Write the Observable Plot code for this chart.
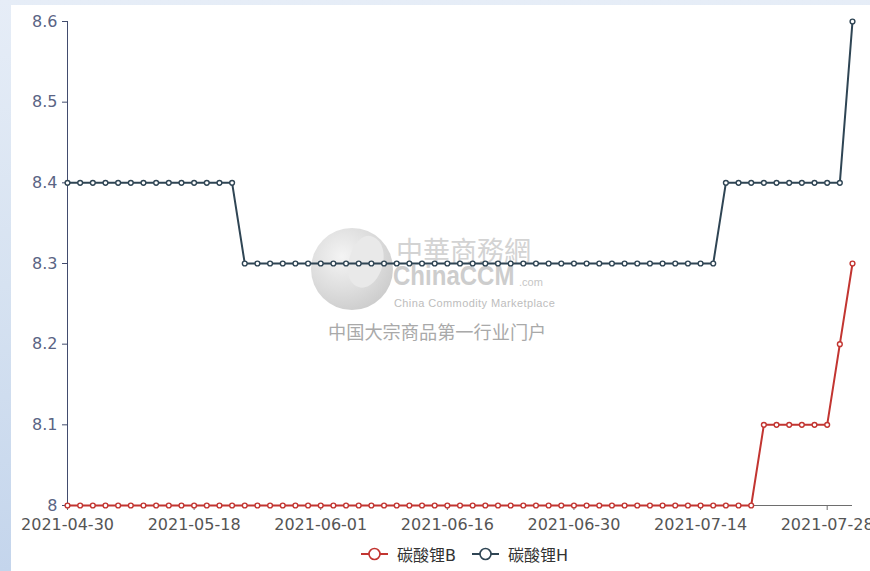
<!DOCTYPE html>
<html>
<head>
<meta charset="utf-8">
<script src="https://cdn.jsdelivr.net/npm/d3@7"></script>
<script src="https://cdn.jsdelivr.net/npm/@observablehq/plot@0.6"></script>
<style>
  html, body { margin: 0; padding: 0; overflow: hidden; }
  #page { position: relative; width: 870px; height: 571px;
    background: linear-gradient(to bottom, #e6edf7 0%, #d6e2f1 50%, #c4d5ec 100%); overflow: hidden; }
  #panel { position: absolute; left: 11px; top: 5px; width: 859px; height: 566px; background: #ffffff; }
  #chart { position: absolute; left: 0; top: 0; }
  .wm { position: absolute; white-space: nowrap; line-height: 1; }
  #globe { position: absolute; left: 300px; top: 223px; width: 82px; height: 82px; border-radius: 50%;
    background: radial-gradient(circle at 38% 35%, #f4f4f4 0%, #dedede 45%, #cbcbcb 80%, #c2c2c2 100%); }
  #globe .land { position: absolute; left: 38px; top: 8px; width: 34px; height: 52px; border-radius: 40% 55% 45% 50%;
    background: #e9e9e9; transform: rotate(20deg); }
  #legend { position: absolute; left: 350px; top: 530px; height: 38px; display: flex; align-items: center;
    font-family: "DejaVu Sans", "Noto Sans CJK SC", sans-serif; font-size: 16px; color: #333; }
  #legend .item { display: flex; align-items: center; }
  #legend svg { display: block; }
</style>
</head>
<body>
<div id="page">
  <div id="panel">
    <div id="globe"><div class="land"></div></div>
    <div class="wm" style="left:385px;top:231px;font-family:'Noto Sans CJK SC';font-size:27px;line-height:27px;color:#d3d3d3;">中華商務網</div>
    <div class="wm" style="left:382px;top:259px;font-family:'Liberation Sans';font-weight:bold;font-size:27px;line-height:24px;color:#cdcdcd;transform:scaleX(0.89);transform-origin:0 0;">ChinaCCM</div>
    <div class="wm" style="left:508px;top:272px;font-family:'Liberation Sans';font-size:11px;color:#c6c6c6;">.com</div>
    <div class="wm" style="left:383px;top:293px;font-family:'Liberation Sans';font-size:11px;letter-spacing:0.4px;color:#bdbdbd;">China Commodity Marketplace</div>
    <div class="wm" style="left:317px;top:317px;font-family:'Noto Sans CJK SC';font-size:18.2px;color:#a9a9a9;">中国大宗商品第一行业门户</div>
    <div id="chart"></div>
    <div id="legend"></div>
  </div>
</div>
<script>
// ---- data ----
const dates = [
  "2021-04-30","2021-05-06","2021-05-07","2021-05-08","2021-05-10","2021-05-11","2021-05-12","2021-05-13","2021-05-14","2021-05-17",
  "2021-05-18","2021-05-19","2021-05-20","2021-05-21","2021-05-24","2021-05-25","2021-05-26","2021-05-27","2021-05-28","2021-05-31",
  "2021-06-01","2021-06-02","2021-06-03","2021-06-04","2021-06-07","2021-06-08","2021-06-09","2021-06-10","2021-06-11","2021-06-15",
  "2021-06-16","2021-06-17","2021-06-18","2021-06-21","2021-06-22","2021-06-23","2021-06-24","2021-06-25","2021-06-28","2021-06-29",
  "2021-06-30","2021-07-01","2021-07-02","2021-07-05","2021-07-06","2021-07-07","2021-07-08","2021-07-09","2021-07-12","2021-07-13",
  "2021-07-14","2021-07-15","2021-07-16","2021-07-19","2021-07-20","2021-07-21","2021-07-22","2021-07-23","2021-07-26","2021-07-27",
  "2021-07-28","2021-07-29","2021-07-30"
];
const seriesB = [
  8,8,8,8,8,8,8,8,8,8,
  8,8,8,8,8,8,8,8,8,8,
  8,8,8,8,8,8,8,8,8,8,
  8,8,8,8,8,8,8,8,8,8,
  8,8,8,8,8,8,8,8,8,8,
  8,8,8,8,8,8.1,8.1,8.1,8.1,8.1,
  8.1,8.2,8.3
];
const seriesH = [
  8.4,8.4,8.4,8.4,8.4,8.4,8.4,8.4,8.4,8.4,
  8.4,8.4,8.4,8.4,8.3,8.3,8.3,8.3,8.3,8.3,
  8.3,8.3,8.3,8.3,8.3,8.3,8.3,8.3,8.3,8.3,
  8.3,8.3,8.3,8.3,8.3,8.3,8.3,8.3,8.3,8.3,
  8.3,8.3,8.3,8.3,8.3,8.3,8.3,8.3,8.3,8.3,
  8.3,8.3,8.4,8.4,8.4,8.4,8.4,8.4,8.4,8.4,
  8.4,8.4,8.6
];
const seriesNames = ["碳酸锂B", "碳酸锂H"];
const seriesColors = ["#c23531", "#2f4554"];
const yTicks = [8, 8.1, 8.2, 8.3, 8.4, 8.5, 8.6];
const xTickLabels = ["2021-04-30","2021-05-18","2021-06-01","2021-06-16","2021-06-30","2021-07-14","2021-07-28"];

// ---- build ----
const rowsB = dates.map((d, i) => ({date: d, value: seriesB[i]}));
const rowsH = dates.map((d, i) => ({date: d, value: seriesH[i]}));

const yAxisColor = "#424c6e";
const yLabelColor = "#5a6484";
const xAxisColor = "#6e6e6e";
const xLabelColor = "#555555";

const chart = Plot.plot({
  width: 859, height: 530,
  marginLeft: 56, marginRight: 18, marginTop: 16, marginBottom: 30,
  style: {background: "transparent", fontFamily: "'DejaVu Sans', 'Noto Sans CJK SC', sans-serif", fontSize: "16px", overflow: "visible"},
  x: {type: "point", domain: dates, padding: 0},
  y: {domain: [8, 8.6]},
  marks: [
    Plot.axisY({ticks: yTicks, tickSize: 5, tickPadding: 5, tickFormat: d => String(+d.toFixed(1)), stroke: yAxisColor, fill: yLabelColor, label: null}),
    Plot.axisX({ticks: xTickLabels, tickSize: 5, tickPadding: 8, stroke: xAxisColor, fill: xLabelColor, label: null}),
    Plot.ruleY([8], {stroke: xAxisColor, strokeWidth: 1}),
    Plot.ruleX([dates[0]], {stroke: yAxisColor, strokeWidth: 1}),
    Plot.line(rowsB, {x: "date", y: "value", stroke: seriesColors[0], strokeWidth: 2}),
    Plot.dot(rowsB, {x: "date", y: "value", r: 2.4, fill: "white", stroke: seriesColors[0], strokeWidth: 1.4}),
    Plot.line(rowsH, {x: "date", y: "value", stroke: seriesColors[1], strokeWidth: 2}),
    Plot.dot(rowsH, {x: "date", y: "value", r: 2.4, fill: "white", stroke: seriesColors[1], strokeWidth: 1.4})
  ]
});
document.getElementById("chart").appendChild(chart);

// ---- legend ----
const legend = document.getElementById("legend");
seriesNames.forEach((name, i) => {
  const item = document.createElement("div");
  item.className = "item";
  item.style.marginRight = i === 0 ? "16px" : "0";
  const c = seriesColors[i];
  item.innerHTML =
    `<svg width="27" height="16"><line x1="0" x2="27" y1="8" y2="8" stroke="${c}" stroke-width="2"/>` +
    `<circle cx="13.5" cy="8" r="5.5" fill="white" stroke="${c}" stroke-width="1.6"/></svg>` +
    `<span style="margin-left:9px">${name}</span>`;
  legend.appendChild(item);
});
</script>
</body>
</html>
